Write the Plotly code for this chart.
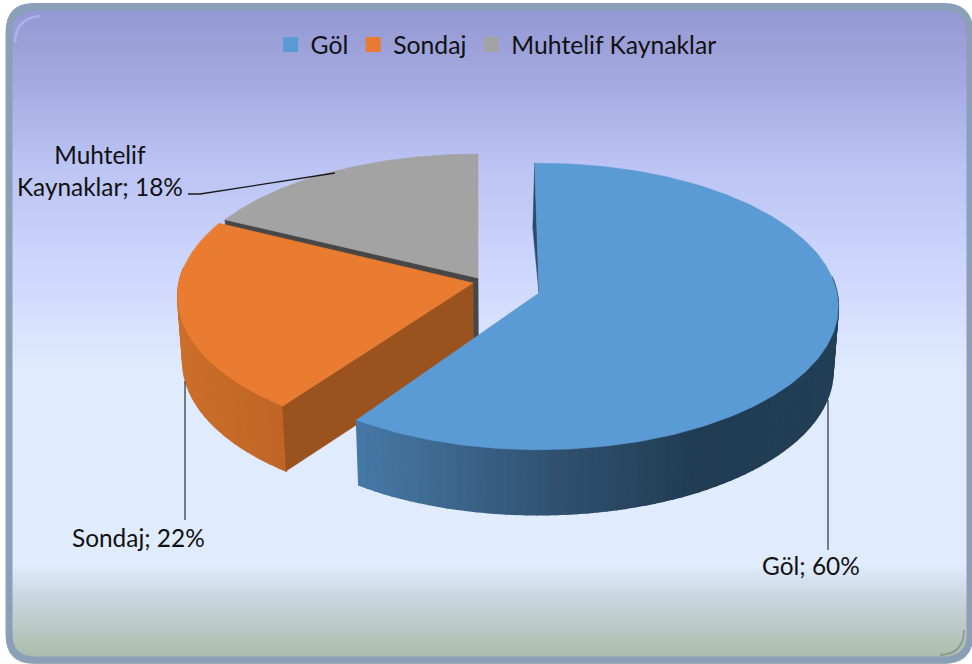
import math
import plotly.graph_objects as go
from plotly.colors import sample_colorscale

# ---- data ----
categories = ["Göl", "Sondaj", "Muhtelif Kaynaklar"]
values = [59.8, 22.0, 18.2]
colors = ["#5B9BD5", "#E97C30", "#A3A3A3"]

# ---- drawing geometry (pixel axes) ----
W, H = 972, 664
apex = [(539, 293), (473, 283), (478, 278)]
rotation = [-0.9, 1.5, 2.16]
radii = [298, 294, 295]
RF = 142
K = 0.094
y_squash = [1.0, 1.0, 0.955]
DEPTH = 65
VX = 500
SHRINK = 0.984

bg_scale = [[0, "#9296D2"], [0.12, "#A3A9E0"], [0.25, "#BBC4F3"], [0.42, "#CFD8FC"],
            [0.56, "#E0EBFD"], [0.85, "#E0EBFD"], [0.90, "#C9D6DF"], [1, "#A8BAA6"]]
wall_scales = {
    0: ([356, 560, 700, 840], ["#4679A6", "#30506F", "#213C53", "#223F56"]),
    1: ([178, 290], ["#CB6F2A", "#BF6426"]),
}
cut_colors = {1: "#9A521F", 2: "#474747"}


def rim(i, theta):
    t = math.radians(theta)
    d = 1 + K * math.cos(t)
    ax, ay = apex[i]
    return ax + radii[i] * math.sin(t) / d, ay - RF * y_squash[i] * math.cos(t) / d


def lower(p):
    return VX + (p[0] - VX) * SHRINK, p[1] + DEPTH


def poly(points, color, width=0.6):
    xs = [p[0] for p in points] + [points[0][0]]
    ys = [p[1] for p in points] + [points[0][1]]
    return go.Scatter(x=xs, y=ys, mode="lines", fill="toself", fillcolor=color,
                      line=dict(color=color, width=width), hoverinfo="skip",
                      showlegend=False)


def wall_color(i, x):
    xs, cs = wall_scales[i]
    u = min(max((x - xs[0]) / (xs[-1] - xs[0]), 0), 1)
    stops = [[(a - xs[0]) / (xs[-1] - xs[0]), c] for a, c in zip(xs, cs)]
    return sample_colorscale(stops, [u])[0]


fig = go.Figure()

# background gradient
rows = list(range(0, H + 1, 2))
fig.add_trace(go.Heatmap(x=[0, W], y=rows, z=[[r / H, r / H] for r in rows], zmin=0, zmax=1,
                         colorscale=bg_scale, showscale=False, hoverinfo="skip"))

# angular extents from values
total = sum(values)
spans = []
acc = 0
for i, v in enumerate(values):
    a0 = acc / total * 360 + rotation[i]
    acc += v
    a1 = min(acc / total * 360 + rotation[i], 360)
    spans.append((a0, a1))


def angles(i, n):
    a0, a1 = spans[i]
    return [a0 + (a1 - a0) * k / n for k in range(n + 1)]


def arc(i, n=120):
    return [rim(i, a) for a in angles(i, n)]


def add_wall(i, n):
    aa = angles(i, n)
    for a, c in zip(aa[:-1], aa[1:]):
        if math.cos(math.radians((a + c) / 2)) > 0.12:
            continue
        p, q = rim(i, a), rim(i, c)
        fig.add_trace(poly([p, q, lower(q), lower(p)], wall_color(i, (p[0] + q[0]) / 2), 1.6))


# gray slice: dark cut face, then top
g0 = rim(2, spans[2][0])
fig.add_trace(poly([g0, apex[2], lower(apex[2]), lower(g0)], cut_colors[2]))
fig.add_trace(poly([apex[2]] + arc(2), colors[2]))

# orange slice: wall, cut face, top
add_wall(1, 40)
o0 = rim(1, spans[1][0])
fig.add_trace(poly([o0, apex[1], lower(apex[1]), lower(o0)], cut_colors[1]))
fig.add_trace(poly([apex[1]] + arc(1), colors[1]))

# blue slice: wall, thin far cut face, top
add_wall(0, 120)
b0 = rim(0, spans[0][0])
fig.add_trace(poly([b0, ((b0[0] + apex[0][0]) / 2 - 4, (b0[1] + apex[0][1]) / 2), apex[0]], "#2B4D6B"))
fig.add_trace(poly([apex[0]] + arc(0, 240), colors[0]))

# legend entries
for name, c in zip(categories, colors):
    fig.add_trace(go.Scatter(x=[None], y=[None], mode="markers", name=name,
                             marker=dict(symbol="square", size=15, color=c)))


def rrect(x0, y0, x1, y1, r):
    return (f"M{x0+r},{y0} L{x1-r},{y0} Q{x1},{y0} {x1},{y0+r} L{x1},{y1-r} Q{x1},{y1} {x1-r},{y1} "
            f"L{x0+r},{y1} Q{x0},{y1} {x0},{y1-r} L{x0},{y0+r} Q{x0},{y0} {x0+r},{y0} Z")


FONT = "Lato, Carlito, Calibri, sans-serif"
shapes = [
    dict(type="path", path=f"M-5,-5 L{W+5},-5 L{W+5},{H+5} L-5,{H+5} Z " + rrect(6, 3, 972, 664, 28),
         fillcolor="white", line=dict(width=0), layer="above"),
    dict(type="path", path=rrect(9, 7, 970, 660, 26), line=dict(color="#8AA0B8", width=7), layer="above"),
    dict(type="path", path="M15,42 Q16,18 40,16", line=dict(color="#C3C7F6", width=2.5), opacity=0.5, layer="above"),
    dict(type="path", path="M964,630 Q964,654 940,655", line=dict(color="#6A7A70", width=2), opacity=0.5, layer="above"),
    dict(type="path", path="M335,173 L200,194 L188,194", line=dict(color="#1A1A1A", width=1.3), layer="above"),
    dict(type="line", x0=185, x1=185, y0=381, y1=520, line=dict(color="#3A3F45", width=1.3), layer="above"),
    dict(type="line", x0=828, x1=828, y0=400, y1=550, line=dict(color="#3A3F45", width=1.3), layer="above"),
]

lab = [f"{c}; {round(v)}%" for c, v in zip(categories, values)]
annotations = [
    dict(x=811, y=565, text=lab[0]),
    dict(x=138, y=537, text=lab[1]),
    dict(x=100, y=170, text=lab[2].replace("Muhtelif ", "Muhtelif<br>")),
]
for a in annotations:
    a.update(xref="x", yref="y", showarrow=False, align="center",
             font=dict(family=FONT, size=24.4, color="#111111"))

fig.update_layout(
    width=W, height=H, margin=dict(l=0, r=0, t=0, b=0),
    paper_bgcolor="white", plot_bgcolor="white",
    xaxis=dict(range=[0, W], visible=False, fixedrange=True),
    yaxis=dict(range=[H, 0], visible=False, fixedrange=True),
    shapes=shapes, annotations=annotations,
    showlegend=True,
    legend=dict(orientation="h", x=0.5 + 10 / W, xanchor="center", y=1 - 45 / H, yanchor="middle",
                bgcolor="rgba(0,0,0,0)", font=dict(family=FONT, size=24.7, color="#111111"),
                itemclick=False, itemdoubleclick=False),
)
fig.write_html("out.html", config={"displayModeBar": False},
               post_script="document.body.style.margin='0';document.documentElement.style.overflow='hidden';")
